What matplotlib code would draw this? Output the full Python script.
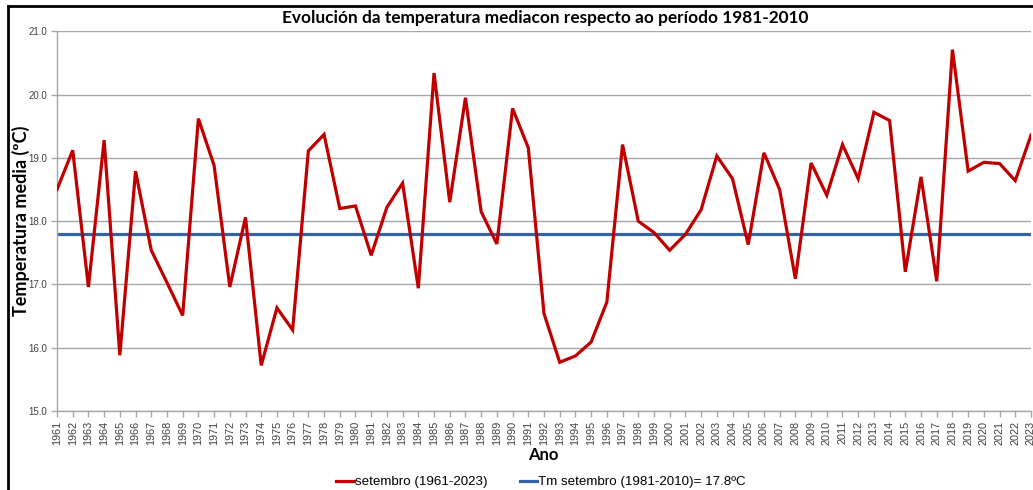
import matplotlib
matplotlib.use("Agg")
import matplotlib.pyplot as plt
from matplotlib.lines import Line2D

years = list(range(1961, 2024))
temps = [18.50, 19.12, 16.96, 19.28, 15.88, 18.79, 17.54, 17.03, 16.51, 19.62,
         18.88, 16.96, 18.06, 15.72, 16.63, 16.28, 19.11, 19.37, 18.20, 18.24,
         17.46, 18.22, 18.60, 16.94, 20.34, 18.30, 19.95, 18.15, 17.64, 19.78,
         19.16, 16.54, 15.77, 15.87, 16.09, 16.72, 19.21, 18.00, 17.82, 17.54,
         17.79, 18.18, 19.03, 18.67, 17.63, 19.08, 18.50, 17.09, 18.92, 18.41,
         19.21, 18.67, 19.72, 19.59, 17.20, 18.70, 17.05, 20.71, 18.79, 18.93,
         18.91, 18.64, 19.36]
ref_value = 17.8
yticks = [15.0, 16.0, 17.0, 18.0, 19.0, 20.0, 21.0]

title = "Evolución da temperatura mediacon respecto ao período 1981-2010"
ylabel = "Temperatura media (ºC)"
xlabel = "Ano"
label_series = "setembro (1961-2023)"
label_ref = "Tm setembro (1981-2010)= 17.8ºC"

red = "#C00000"
blue = "#3464A6"
grid = "#A6A6A6"
tickc = "#404040"

fig = plt.figure(figsize=(10.33, 4.90), dpi=100)
ax = fig.add_axes([57/1033, 1-411/490, (1031-57)/1033, (411-31.3)/490])

ax.plot(years, temps, color=red, lw=2.3, solid_joinstyle="miter", zorder=3)
ax.plot([years[0], years[-1]], [ref_value, ref_value], color=blue, lw=2.3, zorder=2)

ax.set_xlim(years[0], years[-1])
ax.set_ylim(15.0, 21.0)
ax.set_yticks(yticks)
ax.set_yticklabels([f"{v:.1f}" for v in yticks], fontsize=7, color=tickc,
                   family="Liberation Sans")
ax.set_xticks(years)
ax.set_xticklabels([str(y) for y in years], rotation=90, fontsize=7.8,
                   color=tickc, family="Liberation Sans")
ax.yaxis.grid(True, color=grid, lw=1)
ax.set_axisbelow(True)
for s in ["top", "right"]:
    ax.spines[s].set_visible(False)
for s in ["left", "bottom"]:
    ax.spines[s].set_color(grid)
    ax.spines[s].set_linewidth(1)
ax.tick_params(axis="both", direction="out", length=4, width=1, color=grid, pad=3)

fig.text(545/1033, 1-17.5/490, title, ha="center", va="center", fontsize=12.4,
         fontweight="bold", family="Lato")
fig.text(21/1033, 1-221/490, ylabel, ha="center", va="center", rotation=90,
         fontsize=13, fontweight="bold", family="Lato")
fig.text(543/1033, 1-455/490, xlabel, ha="center", va="center", fontsize=12,
         fontweight="bold", family="Lato")

handles = [Line2D([], [], color=red, lw=2.3), Line2D([], [], color=blue, lw=2.3)]
fig.legend(handles, [label_series, label_ref], loc="center",
           bbox_to_anchor=(541/1033, 1-482/490), ncol=2, frameon=False,
           handlelength=1.3, handletextpad=0.1, columnspacing=2.4,
           prop={"family": "Liberation Sans", "size": 9.6})

# outer frame (left and top edges visible in reference crop)
fig.add_artist(Line2D([8/1033, 8/1033], [0, 1-6/490], color="black", lw=2,
                      transform=fig.transFigure))
fig.add_artist(Line2D([8/1033, 1], [1-6/490, 1-6/490], color="black", lw=2,
                      transform=fig.transFigure))

fig.savefig("out.png", dpi=100)
